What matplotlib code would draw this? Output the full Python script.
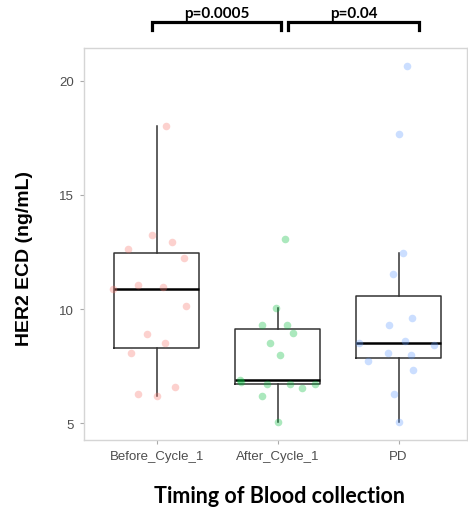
import numpy as np
import matplotlib.pyplot as plt

plt.rcParams["font.family"] = ["Liberation Sans", "DejaVu Sans"]

groups = ["Before_Cycle_1", "After_Cycle_1", "PD"]
colors = ["#F8766D", "#00BA38", "#619CFF"]

before = [18.0, 13.25, 12.95, 12.65, 12.25, 11.05, 10.95, 10.9, 10.15, 8.9, 8.5, 8.1, 6.6, 6.3, 6.2]
after = [13.05, 10.05, 9.3, 9.3, 8.95, 8.5, 8.0, 6.9, 6.8, 6.7, 6.7, 6.55, 6.7, 6.2, 5.05]
pd_vals = [20.65, 17.65, 12.45, 11.55, 9.6, 9.3, 8.5, 8.6, 8.45, 8.1, 8.0, 7.75, 7.35, 6.3, 5.05]

# horizontal jitter (category units)
jit_before = [0.08, -0.04, 0.13, -0.24, 0.23, -0.15, 0.05, -0.36, 0.24, -0.08, 0.07, -0.21, 0.15, -0.15, 0.0]
jit_after = [0.06, -0.01, -0.13, 0.08, 0.13, -0.06, 0.02, -0.31, -0.30, -0.09, 0.10, 0.20, 0.31, -0.13, 0.0]
jit_pd = [0.07, 0.0, 0.04, -0.05, 0.11, -0.08, -0.33, 0.05, 0.29, -0.09, 0.10, -0.25, 0.12, -0.04, 0.0]

comparisons = [(1, 2, "p=0.0005"), (2, 3, "p=0.04")]

data = [before, after, pd_vals]
jitters = [jit_before, jit_after, jit_pd]

fig = plt.figure(figsize=(4.68, 5.10), dpi=100)
ax = fig.add_axes([84 / 468, 69 / 510, 383 / 468, 392 / 510])

pos = np.arange(1, len(groups) + 1)
ax.boxplot(data, positions=pos, widths=0.7, whis=1.5, showfliers=False,
           boxprops=dict(color="#333333", linewidth=1.1),
           whiskerprops=dict(color="#333333", linewidth=1.1),
           capprops=dict(linewidth=0),
           medianprops=dict(color="black", linewidth=1.8))

for i, (vals, jit) in enumerate(zip(data, jitters)):
    xs = pos[i] + np.array(jit)
    ax.scatter(xs, vals, s=30, color=colors[i], alpha=0.33, linewidths=0, zorder=3)

ax.set_xlim(0.4, 0.4 + 383 / 121)
ax.set_ylim(4.27, 21.43)
ax.set_yticks([5, 10, 15, 20])
ax.set_xticks(pos)
ax.set_xticklabels(groups)
ax.tick_params(length=3, color="#AAAAAA", pad=4, labelsize=9.5, labelcolor="#4D4D4D")
for sp in ax.spines.values():
    sp.set_color("#D5D5D5")
    sp.set_linewidth(1.0)

# significance brackets above the panel
trans = ax.get_xaxis_transform()
for a, b, txt in comparisons:
    x0, x1 = a - 0.04, b + 0.03
    if a > 1:
        x0 = a + 0.09
        x1 = b + 0.165
    ax.plot([x0, x0, x1, x1], [1.046, 1.066, 1.066, 1.046], transform=trans,
            color="black", linewidth=2.3, clip_on=False, solid_joinstyle="miter")
    ax.text((x0 + x1) / 2, 1.089, txt, transform=trans, ha="center", va="center",
            fontsize=11, fontweight="bold", family="Lato")

fig.text(25 / 468, 1 - 258 / 510, "HER2 ECD (ng/mL)", rotation=90, ha="center", va="center",
         fontsize=14, fontweight="bold")
fig.text(279 / 468, 1 - 497 / 510, "Timing of Blood collection", ha="center", va="center",
         fontsize=15.5, fontweight="bold", family="Lato")

fig.savefig("out.png", dpi=100)
